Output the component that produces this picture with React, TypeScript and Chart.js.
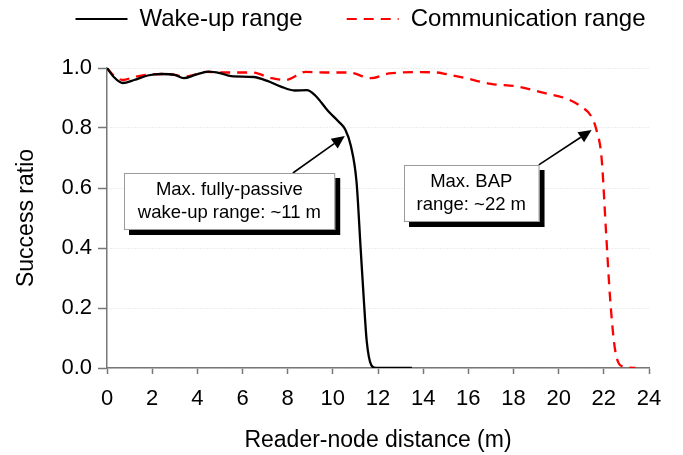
import React, { useEffect, useRef } from 'react';
import { Chart, registerables } from 'chart.js';

Chart.register(...registerables);

// ---- Data ----
const wakeDistance = [0, 0.3, 0.7, 1.2, 1.8, 2.4, 3.0, 3.4, 3.9, 4.5, 5.0, 5.5, 6.5, 7.1, 7.7, 8.3, 8.85, 9.2, 9.8, 10.25, 10.55, 10.8, 11.05, 11.23, 11.37, 11.5, 11.7, 11.9, 13.5];
const wakeRatio = [1.0, 0.97, 0.95, 0.96, 0.975, 0.98, 0.977, 0.966, 0.977, 0.988, 0.983, 0.973, 0.97, 0.957, 0.938, 0.925, 0.926, 0.91, 0.856, 0.822, 0.795, 0.74, 0.62, 0.4, 0.23, 0.09, 0.01, 0, 0];

const commDistance = [0, 0.3, 0.7, 1.2, 1.7, 2.6, 3.5, 4.4, 5.4, 6.4, 7.3, 7.9, 8.8, 9.8, 10.7, 11.7, 12.5, 13.9, 14.6, 15.0, 16.0, 17.0, 18.2, 19.4, 20.3, 21.0, 21.45, 21.66, 21.9, 22.1, 22.28, 22.5, 22.85, 23.4];
const commRatio = [1.0, 0.975, 0.96, 0.97, 0.977, 0.98, 0.972, 0.987, 0.985, 0.985, 0.966, 0.96, 0.987, 0.985, 0.985, 0.966, 0.982, 0.986, 0.985, 0.98, 0.964, 0.947, 0.938, 0.916, 0.899, 0.871, 0.838, 0.797, 0.7, 0.45, 0.23, 0.06, 0.005, 0];

const seriesLabels = ['Wake-up range', 'Communication range'];
const xTitle = 'Reader-node distance (m)';
const yTitle = 'Success ratio';
const xRange = [0, 24];
const xStep = 2;
const yRange = [0, 1];
const yStep = 0.2;

// Callouts, anchored in data units (distance m, ratio)
const callouts = [
  { lines: ['Max. fully-passive', 'wake-up range: ~11 m'], center: [5.42, 0.555], tail: [8.23, 0.65], tip: [10.53, 0.773], padX: 14 },
  { lines: ['Max. BAP', 'range: ~22 m'], center: [16.13, 0.582], tail: [19.12, 0.677], tip: [21.46, 0.793], padX: 13 },
];

const FONT = '"Liberation Sans", Arial, Helvetica, sans-serif';

const toPoints = (xs: number[], ys: number[]) => xs.map((x, i) => ({ x, y: ys[i] }));

const calloutPlugin = {
  id: 'callouts',
  afterDatasetsDraw(chart: any) {
    const { ctx } = chart;
    const xs = chart.scales.x;
    const ys = chart.scales.y;
    const lineH = 23;
    ctx.save();
    ctx.font = `18.5px ${FONT}`;
    for (const a of callouts) {
      const tipX = xs.getPixelForValue(a.tip[0]);
      const tipY = ys.getPixelForValue(a.tip[1]);
      const tailX = xs.getPixelForValue(a.tail[0]);
      const tailY = ys.getPixelForValue(a.tail[1]);
      const ang = Math.atan2(tipY - tailY, tipX - tailX);
      const headLen = 13;
      const headW = 6;
      const cos = Math.cos(ang);
      const sin = Math.sin(ang);
      const bx = tipX - headLen * cos;
      const by = tipY - headLen * sin;
      ctx.strokeStyle = '#000';
      ctx.fillStyle = '#000';
      ctx.lineWidth = 1.6;
      ctx.setLineDash([]);
      ctx.beginPath();
      ctx.moveTo(tailX, tailY);
      ctx.lineTo(bx, by);
      ctx.stroke();
      ctx.beginPath();
      ctx.moveTo(tipX, tipY);
      ctx.lineTo(bx + headW * sin, by - headW * cos);
      ctx.lineTo(bx - headW * sin, by + headW * cos);
      ctx.closePath();
      ctx.fill();

      const w = Math.max(...a.lines.map((l) => ctx.measureText(l).width)) + 2 * a.padX;
      const h = lineH * a.lines.length + 11;
      const cx = xs.getPixelForValue(a.center[0]);
      const cy = ys.getPixelForValue(a.center[1]);
      const left = Math.round(cx - w / 2);
      const top = Math.round(cy - h / 2);
      ctx.fillStyle = '#000';
      ctx.fillRect(left + 5, top + 5, w, h);
      ctx.fillStyle = '#fff';
      ctx.fillRect(left, top, w, h);
      ctx.strokeStyle = '#9a9a9a';
      ctx.lineWidth = 1;
      ctx.strokeRect(left + 0.5, top + 0.5, w - 1, h - 1);
      ctx.fillStyle = '#000';
      ctx.textAlign = 'center';
      ctx.textBaseline = 'middle';
      a.lines.forEach((l, i) => ctx.fillText(l, cx, top + 5.5 + lineH / 2 + i * lineH));
    }
    ctx.restore();
  },
};

export default function App() {
  const ref = useRef<HTMLCanvasElement>(null);

  useEffect(() => {
    document.body.style.margin = '0';
    const canvas = ref.current;
    if (!canvas) return;
    Chart.defaults.font.family = FONT;
    const chart = new Chart(canvas, {
      type: 'line',
      data: {
        datasets: [
          {
            label: seriesLabels[0],
            data: toPoints(wakeDistance, wakeRatio),
            borderColor: '#000000',
            backgroundColor: '#000000',
            borderWidth: 2.3,
            pointRadius: 0,
            cubicInterpolationMode: 'monotone',
            xAxisID: 'x',
            yAxisID: 'y',
          },
          {
            label: seriesLabels[1],
            data: toPoints(commDistance, commRatio),
            borderColor: '#ff0000',
            backgroundColor: '#ff0000',
            borderWidth: 2.3,
            borderDash: [10, 7],
            pointRadius: 0,
            cubicInterpolationMode: 'monotone',
            xAxisID: 'x',
            yAxisID: 'y',
          },
        ],
      },
      options: {
        responsive: false,
        animation: false,
        devicePixelRatio: 1,
        parsing: false as any,
        layout: { padding: { top: -37, left: 28, right: -10, bottom: 0 } },
        plugins: {
          tooltip: { enabled: false },
          legend: {
            position: 'top',
            align: 'center',
            labels: {
              font: { size: 24, family: FONT },
              color: '#000',
              usePointStyle: true,
              pointStyle: 'line',
              pointStyleWidth: 52,
              padding: 44,
              generateLabels: (ch: any) =>
                ch.data.datasets.map((ds: any, i: number) => ({
                  text: ds.label,
                  fillStyle: ds.borderColor,
                  strokeStyle: ds.borderColor,
                  lineWidth: 2.2,
                  lineDash: ds.borderDash ? [10, 7] : [],
                  lineCap: 'butt',
                  pointStyle: 'line',
                  fontColor: '#000',
                  hidden: false,
                  datasetIndex: i,
                })),
            },
          },
        },
        scales: {
          x: {
            type: 'linear',
            position: 'bottom',
            min: xRange[0],
            max: xRange[1],
            ticks: {
              stepSize: xStep,
              font: { size: 22, family: FONT },
              color: '#000',
              padding: 12,
              maxRotation: 0,
              autoSkip: false,
            },
            grid: {
              drawOnChartArea: false,
              tickLength: 6,
              tickColor: '#777',
              tickWidth: 1.5,
            },
            border: { color: '#777', width: 1.5 },
            title: {
              display: true,
              text: xTitle,
              font: { size: 23, family: FONT },
              color: '#000',
              padding: { top: 0, bottom: 1 },
            },
            afterFit: (s: any) => {
              s.height = 87;
            },
          },
          y: {
            type: 'linear',
            position: 'left',
            min: yRange[0],
            max: yRange[1],
            ticks: {
              stepSize: yStep,
              font: { size: 22, family: FONT },
              color: '#000',
              padding: 6,
              callback: (v: any) => Number(v).toFixed(1),
            },
            grid: {
              color: '#dcdcdc',
              lineWidth: 1,
              tickLength: 9,
              tickColor: '#777',
              tickWidth: 1.5,
              tickBorderDash: [],
            },
            border: { color: '#777', width: 1.5, dash: [1, 2] },
            title: {
              display: true,
              text: yTitle,
              font: { size: 23, family: FONT },
              color: '#000',
              padding: { top: -15, bottom: 0 },
            },
            afterFit: (s: any) => {
              s.width = 79;
            },
          },
          xTop: {
            type: 'linear',
            position: 'top',
            display: true,
            ticks: { display: false },
            grid: { display: false, drawTicks: false },
            border: { display: false },
            afterFit: (s: any) => {
              s.height = 27;
            },
          },
          yRight: {
            type: 'linear',
            position: 'right',
            display: true,
            ticks: { display: false },
            grid: { display: false, drawTicks: false },
            border: { display: false },
            afterFit: (s: any) => {
              s.width = 44;
            },
          },
        },
      } as any,
      plugins: [calloutPlugin],
    });
    return () => chart.destroy();
  }, []);

  return (
    <div style={{ position: 'absolute', left: 0, top: 0, width: 683, height: 455, background: '#fff' }}>
      <canvas ref={ref} width={683} height={455} style={{ display: 'block', width: 683, height: 455 }} />
    </div>
  );
}
